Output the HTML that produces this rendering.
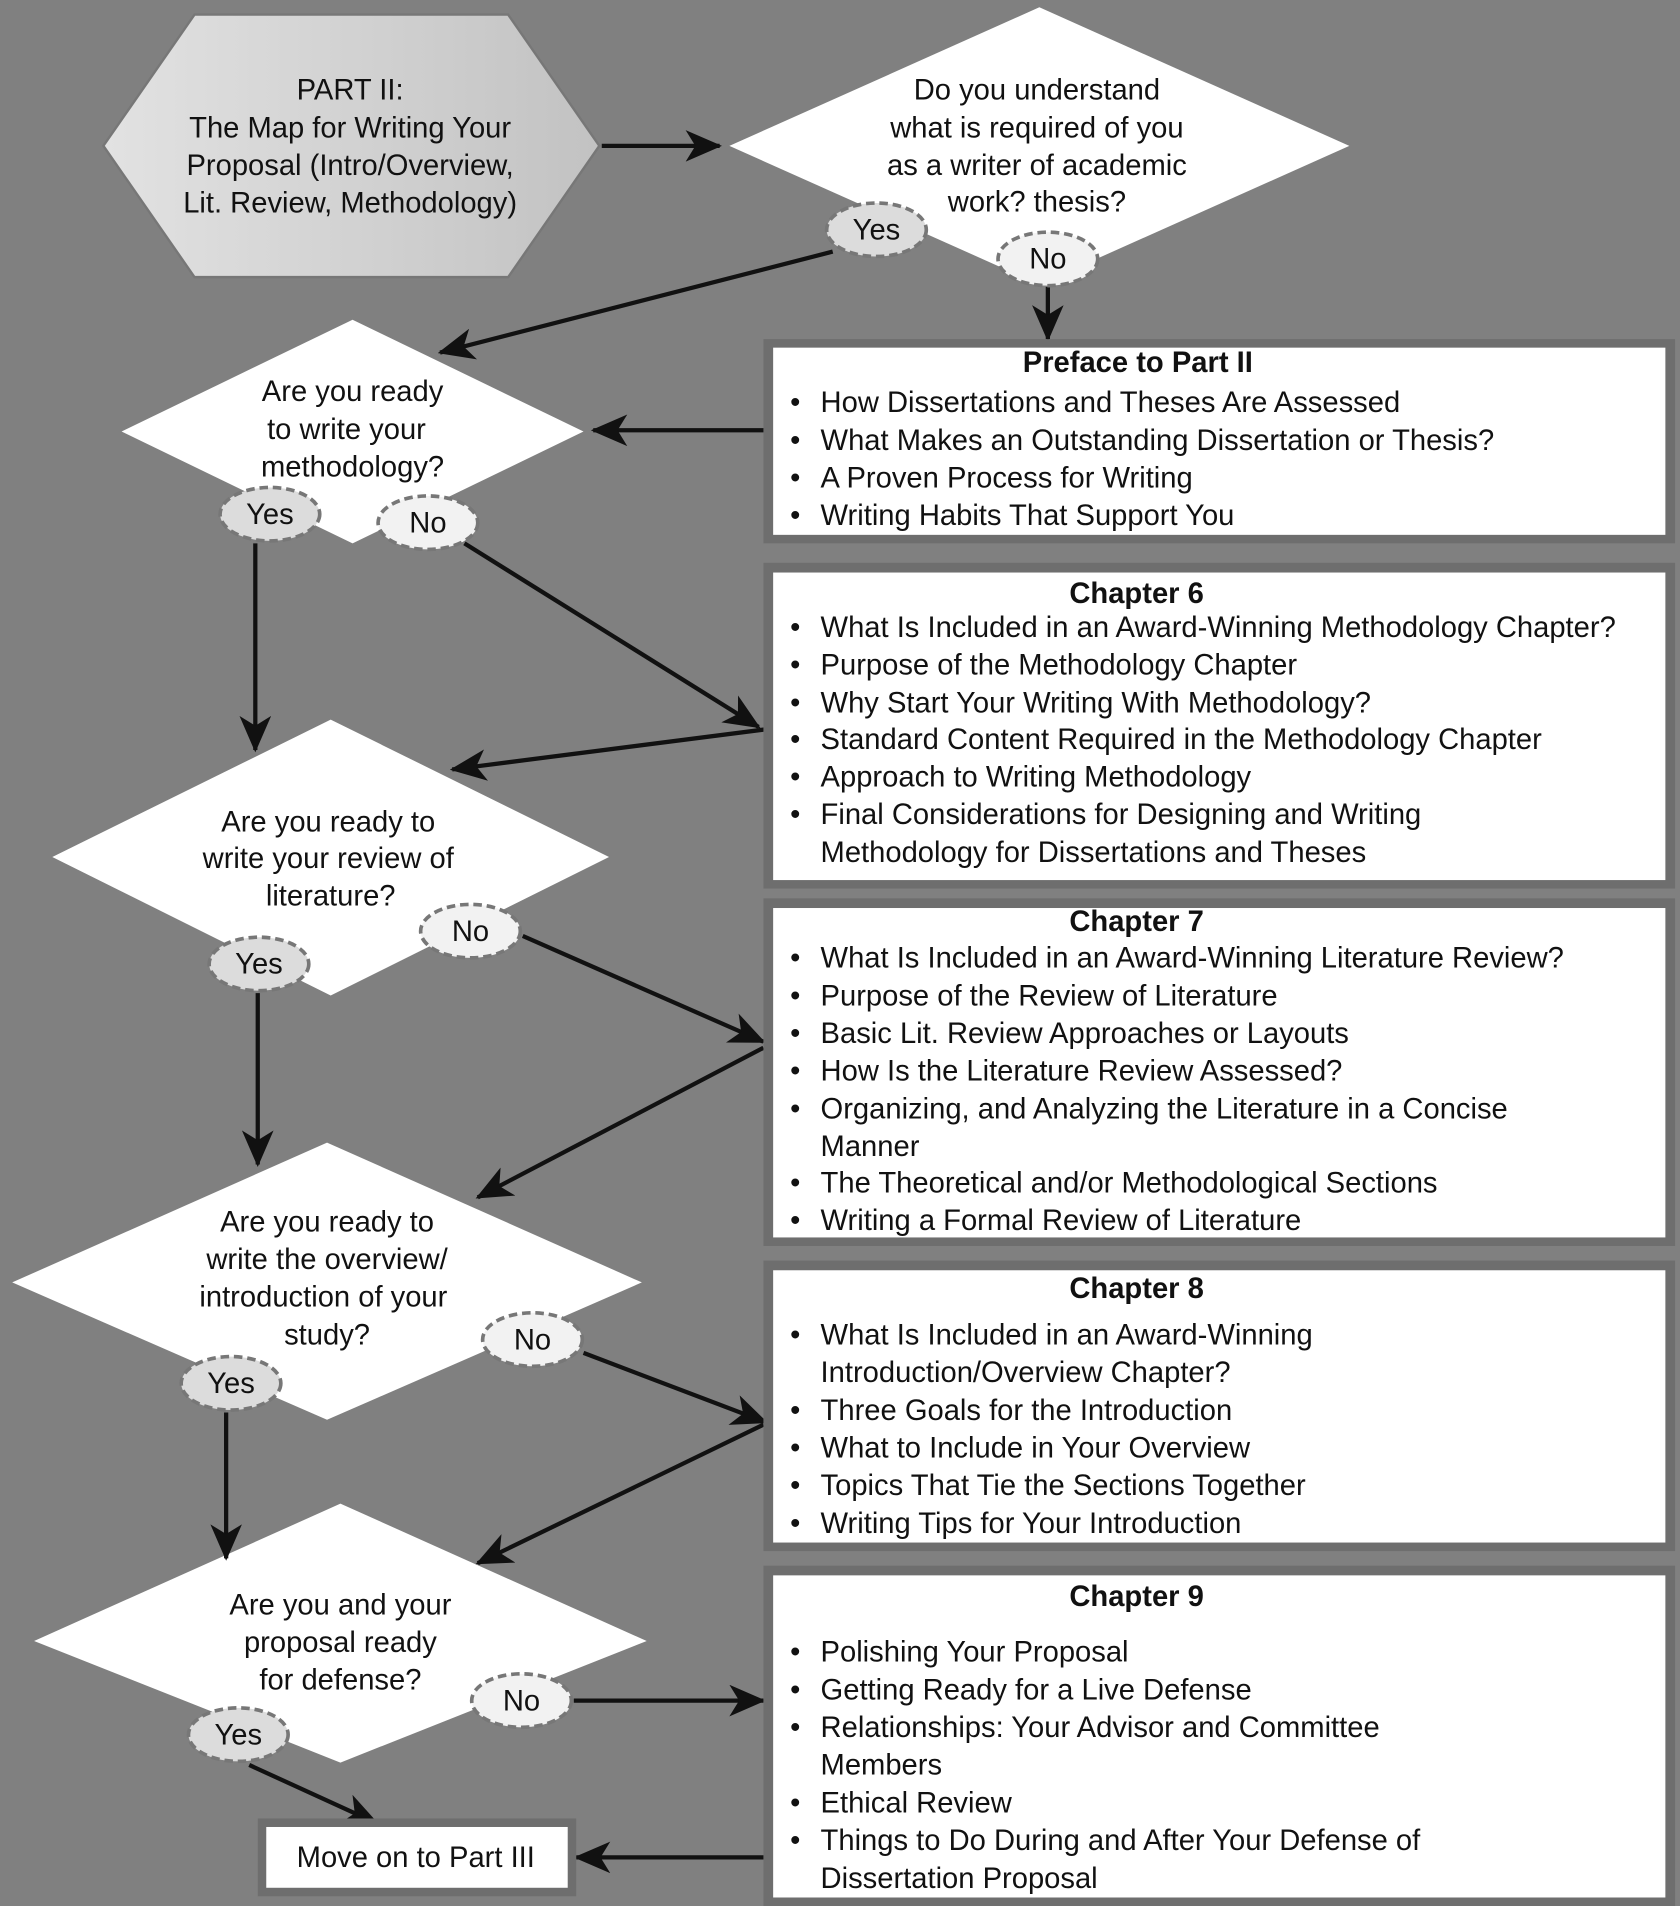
<!DOCTYPE html>
<html><head><meta charset="utf-8"><style>
html,body{margin:0;padding:0;background:#808080;}
svg{display:block;}
text{font-family:"Liberation Sans",Arial,sans-serif;font-size:24px;fill:#111;}
.c{text-anchor:middle;}
.b{font-weight:bold;}
.ar{stroke:#111;stroke-width:3.5;fill:none;}
</style></head><body>
<svg width="1680" height="1906" viewBox="0 0 1382 1568" xmlns="http://www.w3.org/2000/svg">
<defs>
<linearGradient id="g" x1="0" x2="1" y1="0" y2="0"><stop offset="0" stop-color="#e2e2e2"/><stop offset="1" stop-color="#c2c2c2"/></linearGradient>
<marker id="m" markerWidth="30" markerHeight="26" refX="28" refY="13" orient="auto" markerUnits="userSpaceOnUse"><path d="M0,0 L30,13 L0,26 L8,13 Z" fill="#111"/></marker>
</defs>
<rect width="1382" height="1568" fill="#808080"/>
<polygon points="85,120 160,12 418,12 493,120 418,228 160,228" fill="url(#g)" stroke="#777" stroke-width="2"/>
<text class="c" x="288" y="82">PART II:</text>
<text class="c" x="288" y="113">The Map for Writing Your</text>
<text class="c" x="288" y="144">Proposal (Intro/Overview,</text>
<text class="c" x="288" y="175">Lit. Review, Methodology)</text>
<polygon points="600,120 855,6 1110,120 855,234" fill="#fff"/>
<text class="c" x="853" y="82">Do you understand</text>
<text class="c" x="853" y="113">what is required of you</text>
<text class="c" x="853" y="144">as a writer of academic</text>
<text class="c" x="853" y="174">work? thesis?</text>
<polygon points="100,355 290,263 480,355 290,447" fill="#fff"/>
<text class="c" x="290" y="330">Are you ready</text>
<text class="c" x="285" y="361">to write your</text>
<text class="c" x="290" y="392">methodology?</text>
<polygon points="43,705 272,592 501,705 272,819" fill="#fff"/>
<text class="c" x="270" y="684">Are you ready to</text>
<text class="c" x="270" y="714">write your review of</text>
<text class="c" x="272" y="745">literature?</text>
<polygon points="10,1055 269,940 528,1055 269,1168" fill="#fff"/>
<text class="c" x="269" y="1013">Are you ready to</text>
<text class="c" x="269" y="1044">write the overview/</text>
<text class="c" x="266" y="1075">introduction of your</text>
<text class="c" x="269" y="1106">study?</text>
<polygon points="28,1350 280,1237 532,1350 280,1450" fill="#fff"/>
<text class="c" x="280" y="1328">Are you and your</text>
<text class="c" x="280" y="1359">proposal ready</text>
<text class="c" x="280" y="1390">for defense?</text>
<line class="ar" x1="495" y1="120" x2="592" y2="120" marker-end="url(#m)"/>
<line class="ar" x1="685" y1="207" x2="362" y2="290" marker-end="url(#m)"/>
<line class="ar" x1="862" y1="236" x2="862" y2="279" marker-end="url(#m)"/>
<line class="ar" x1="633" y1="354" x2="488" y2="354" marker-end="url(#m)"/>
<line class="ar" x1="210" y1="447" x2="210" y2="617" marker-end="url(#m)"/>
<line class="ar" x1="382" y1="447" x2="624" y2="598" marker-end="url(#m)"/>
<line class="ar" x1="630" y1="600" x2="372" y2="633" marker-end="url(#m)"/>
<line class="ar" x1="212" y1="817" x2="212" y2="958" marker-end="url(#m)"/>
<line class="ar" x1="430" y1="770" x2="628" y2="857" marker-end="url(#m)"/>
<line class="ar" x1="628" y1="862" x2="393" y2="985" marker-end="url(#m)"/>
<line class="ar" x1="186" y1="1162" x2="186" y2="1282" marker-end="url(#m)"/>
<line class="ar" x1="480" y1="1113" x2="630" y2="1170" marker-end="url(#m)"/>
<line class="ar" x1="628" y1="1172" x2="393" y2="1286" marker-end="url(#m)"/>
<line class="ar" x1="472" y1="1399" x2="628" y2="1399" marker-end="url(#m)"/>
<line class="ar" x1="205" y1="1452" x2="310" y2="1500" marker-end="url(#m)"/>
<line class="ar" x1="632" y1="1528" x2="474" y2="1528" marker-end="url(#m)"/>
<g stroke="#777" stroke-width="3" stroke-dasharray="7,4">
<ellipse cx="721" cy="189" rx="41" ry="22" fill="#dcdcdc"/>
<ellipse cx="862" cy="213" rx="41" ry="22" fill="#f2f2f2"/>
<ellipse cx="222" cy="423" rx="41" ry="22" fill="#dcdcdc"/>
<ellipse cx="352" cy="430" rx="41" ry="22" fill="#f2f2f2"/>
<ellipse cx="213" cy="793" rx="41" ry="22" fill="#dcdcdc"/>
<ellipse cx="387" cy="766" rx="41" ry="22" fill="#f2f2f2"/>
<ellipse cx="190" cy="1138" rx="41" ry="22" fill="#dcdcdc"/>
<ellipse cx="438" cy="1102" rx="41" ry="22" fill="#f2f2f2"/>
<ellipse cx="196" cy="1427" rx="41" ry="22" fill="#dcdcdc"/>
<ellipse cx="429" cy="1399" rx="41" ry="22" fill="#f2f2f2"/>
</g>
<text class="c" x="721" y="197">Yes</text>
<text class="c" x="862" y="221">No</text>
<text class="c" x="222" y="431">Yes</text>
<text class="c" x="352" y="438">No</text>
<text class="c" x="213" y="801">Yes</text>
<text class="c" x="387" y="774">No</text>
<text class="c" x="190" y="1146">Yes</text>
<text class="c" x="438" y="1110">No</text>
<text class="c" x="196" y="1435">Yes</text>
<text class="c" x="429" y="1407">No</text>
<g fill="#6e6e6e">
<rect x="628" y="279" width="750" height="168"/>
<rect x="628" y="463" width="750" height="268"/>
<rect x="628" y="739" width="750" height="286"/>
<rect x="628" y="1037" width="750" height="239"/>
<rect x="628" y="1288" width="750" height="280"/>
<rect x="212" y="1496" width="262" height="64"/>
</g>
<g fill="#fff">
<rect x="636" y="286" width="734" height="154"/>
<rect x="636" y="471" width="734" height="253"/>
<rect x="636" y="747" width="734" height="271"/>
<rect x="636" y="1045" width="734" height="224"/>
<rect x="636" y="1296" width="734" height="265"/>
<rect x="219" y="1503" width="248" height="50"/>
</g>
<text class="c" x="342" y="1536">Move on to Part III</text>
<g>
<text class="c b" x="936" y="306">Preface to Part II</text>
<text x="650" y="339">•</text><text x="675" y="339">How Dissertations and Theses Are Assessed</text>
<text x="650" y="370">•</text><text x="675" y="370">What Makes an Outstanding Dissertation or Thesis?</text>
<text x="650" y="401">•</text><text x="675" y="401">A Proven Process for Writing</text>
<text x="650" y="432">•</text><text x="675" y="432">Writing Habits That Support You</text>
<text class="c b" x="935" y="496">Chapter 6</text>
<text x="650" y="524">•</text><text x="675" y="524">What Is Included in an Award-Winning Methodology Chapter?</text>
<text x="650" y="555">•</text><text x="675" y="555">Purpose of the Methodology Chapter</text>
<text x="650" y="586">•</text><text x="675" y="586">Why Start Your Writing With Methodology?</text>
<text x="650" y="616">•</text><text x="675" y="616">Standard Content Required in the Methodology Chapter</text>
<text x="650" y="647">•</text><text x="675" y="647">Approach to Writing Methodology</text>
<text x="650" y="678">•</text><text x="675" y="678">Final Considerations for Designing and Writing</text>
<text x="675" y="709">Methodology for Dissertations and Theses</text>
<text class="c b" x="935" y="766">Chapter 7</text>
<text x="650" y="796">•</text><text x="675" y="796">What Is Included in an Award-Winning Literature Review?</text>
<text x="650" y="827">•</text><text x="675" y="827">Purpose of the Review of Literature</text>
<text x="650" y="858">•</text><text x="675" y="858">Basic Lit. Review Approaches or Layouts</text>
<text x="650" y="889">•</text><text x="675" y="889">How Is the Literature Review Assessed?</text>
<text x="650" y="920">•</text><text x="675" y="920">Organizing, and Analyzing the Literature in a Concise</text>
<text x="675" y="951">Manner</text>
<text x="650" y="981">•</text><text x="675" y="981">The Theoretical and/or Methodological Sections</text>
<text x="650" y="1012">•</text><text x="675" y="1012">Writing a Formal Review of Literature</text>
<text class="c b" x="935" y="1068">Chapter 8</text>
<text x="650" y="1106">•</text><text x="675" y="1106">What Is Included in an Award-Winning</text>
<text x="675" y="1137">Introduction/Overview Chapter?</text>
<text x="650" y="1168">•</text><text x="675" y="1168">Three Goals for the Introduction</text>
<text x="650" y="1199">•</text><text x="675" y="1199">What to Include in Your Overview</text>
<text x="650" y="1230">•</text><text x="675" y="1230">Topics That Tie the Sections Together</text>
<text x="650" y="1261">•</text><text x="675" y="1261">Writing Tips for Your Introduction</text>
<text class="c b" x="935" y="1321">Chapter 9</text>
<text x="650" y="1367">•</text><text x="675" y="1367">Polishing Your Proposal</text>
<text x="650" y="1398">•</text><text x="675" y="1398">Getting Ready for a Live Defense</text>
<text x="650" y="1429">•</text><text x="675" y="1429">Relationships: Your Advisor and Committee</text>
<text x="675" y="1460">Members</text>
<text x="650" y="1491">•</text><text x="675" y="1491">Ethical Review</text>
<text x="650" y="1522">•</text><text x="675" y="1522">Things to Do During and After Your Defense of</text>
<text x="675" y="1553">Dissertation Proposal</text>
</g>
</svg>
</body></html>
